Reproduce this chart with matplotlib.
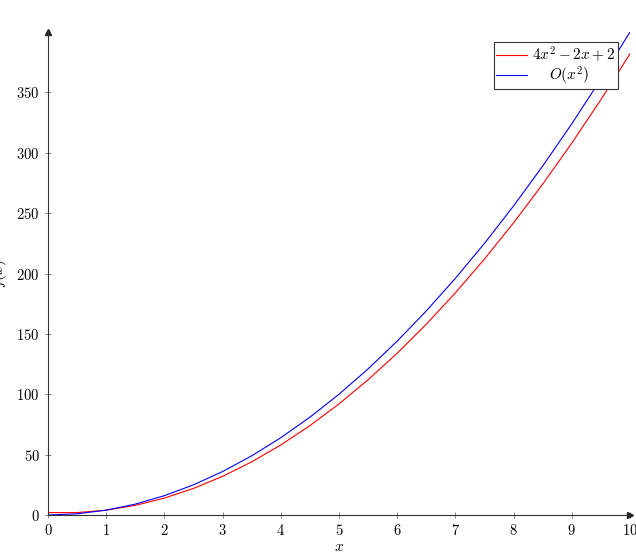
import matplotlib
matplotlib.use("Agg")
import matplotlib.pyplot as plt

# valores (paso 0.5)
x_vals = [0, 0.5, 1, 1.5, 2, 2.5, 3, 3.5, 4, 4.5, 5, 5.5, 6, 6.5, 7, 7.5, 8, 8.5, 9, 9.5, 10]
f_vals = [2, 2, 4, 8, 14, 22, 32, 44, 58, 74, 92, 112, 134, 158, 184, 212, 242, 274, 308, 344, 382]
o_vals = [0, 1, 4, 9, 16, 25, 36, 49, 64, 81, 100, 121, 144, 169, 196, 225, 256, 289, 324, 361, 400]

x_ticks = list(range(0, 11))
y_ticks = [0, 50, 100, 150, 200, 250, 300, 350]

plt.rcParams["font.family"] = "serif"
plt.rcParams["font.serif"] = ["cmr10"]
plt.rcParams["mathtext.fontset"] = "cm"
plt.rcParams["axes.formatter.use_mathtext"] = True

fig = plt.figure(figsize=(6.36, 5.53), dpi=100)
ax = fig.add_axes([48 / 636, 38 / 553, 582 / 636, 483 / 553])

ax.plot(x_vals, f_vals, color="red", lw=0.8, label=r"$4x^2-2x+2$")
ax.plot(x_vals, o_vals, color="blue", lw=0.8, label=r"$\quad\;O(x^2)$")

ax.set_xlim(0, 10)
ax.set_ylim(0, 400)
ax.set_xticks(x_ticks)
ax.set_yticks(y_ticks)
ax.tick_params(direction="inout", length=5, width=0.5, color="#555555", labelsize=10.5)

for lado in ["top", "right"]:
    ax.spines[lado].set_visible(False)
for lado in ["left", "bottom"]:
    ax.spines[lado].set_linewidth(0.8)
    ax.spines[lado].set_color("#333333")

# flechas de los ejes
ax.plot(1, 0, ">", color="#222222", ms=4, transform=ax.get_yaxis_transform(), clip_on=False)
ax.plot(0, 1, "^", color="#222222", ms=4, transform=ax.get_xaxis_transform(), clip_on=False)

ax.set_xlabel(r"$x$", fontsize=11)
ax.xaxis.set_label_coords(0.5, -0.052)
ax.set_ylabel(r"$f(x)$", fontsize=11)
ax.yaxis.set_label_coords(-0.067, 0.5)

leg = ax.legend(loc="upper right", bbox_to_anchor=(0.979, 0.979), fancybox=False,
                edgecolor="#333333", framealpha=1, fontsize=11, handlelength=2.0,
                borderpad=0.15, borderaxespad=0, labelspacing=0.05, handletextpad=0.35)
leg.get_frame().set_linewidth(0.8)

fig.savefig("out.png", dpi=100)
